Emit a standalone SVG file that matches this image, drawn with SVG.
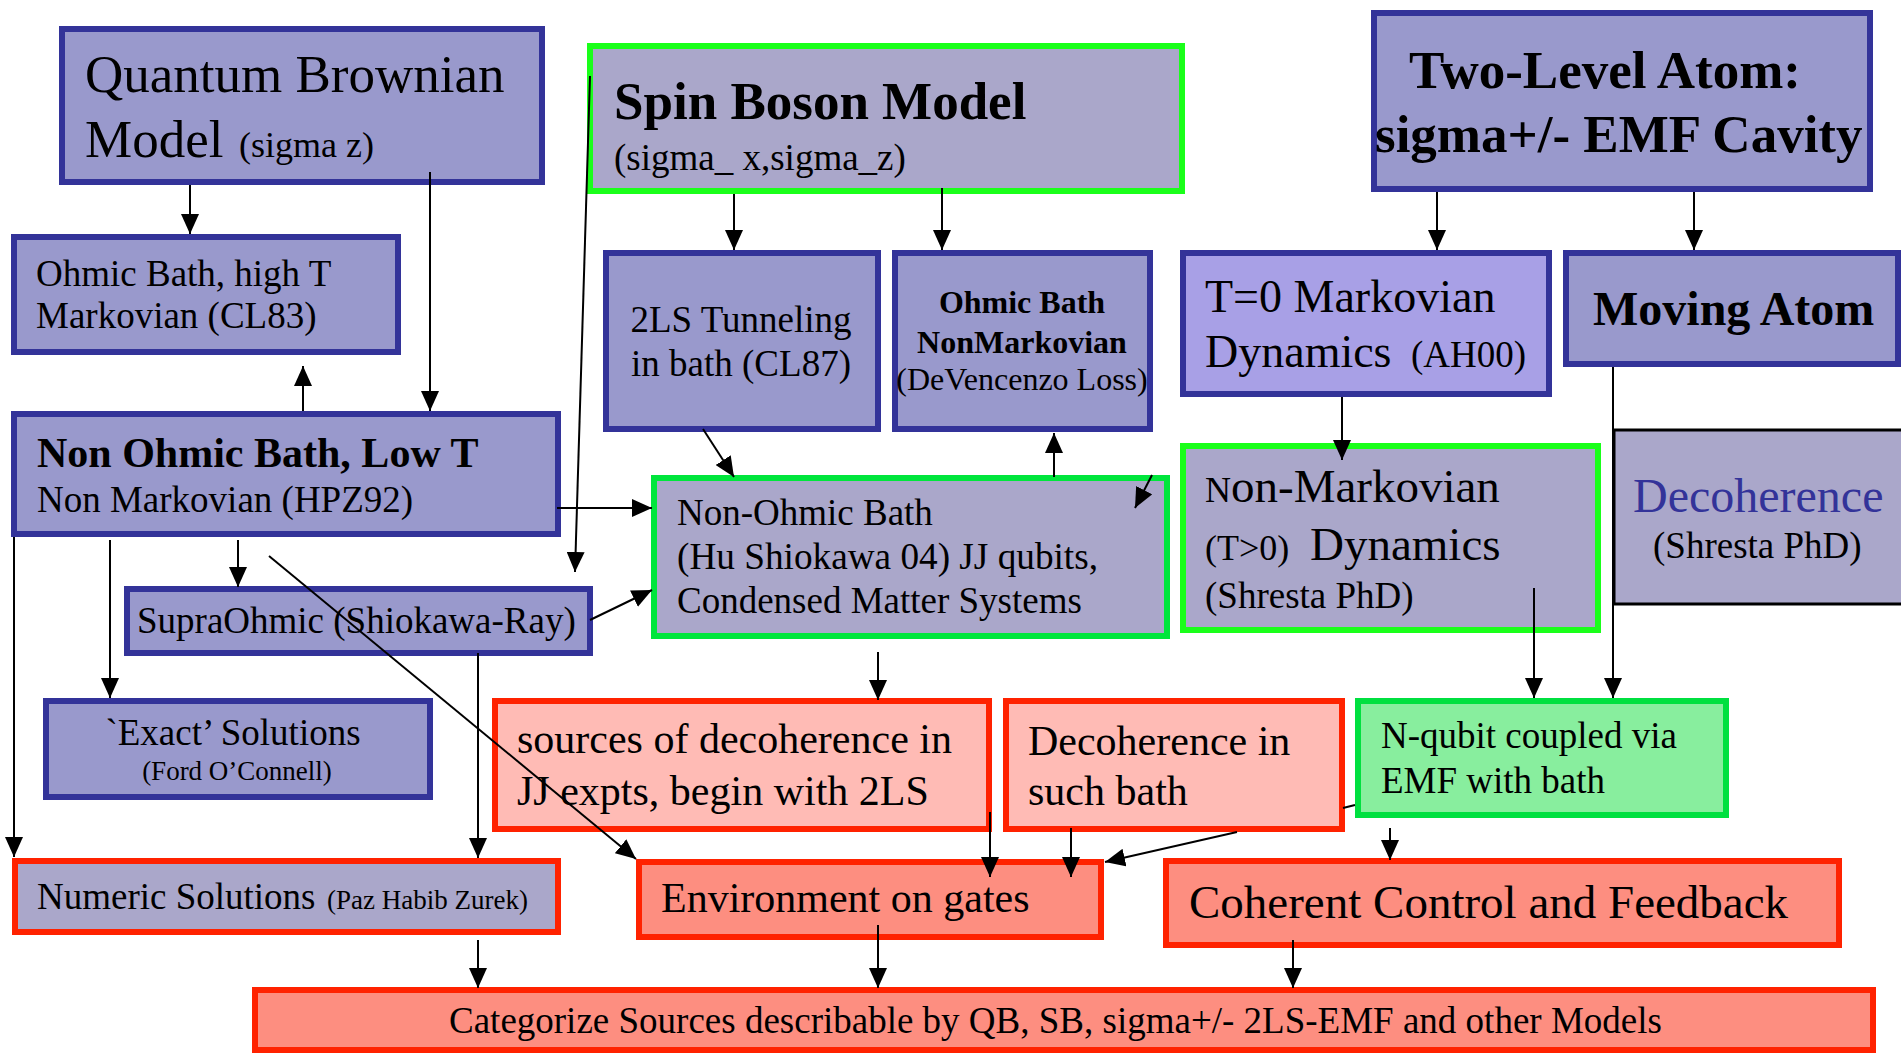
<svg xmlns="http://www.w3.org/2000/svg" width="1901" height="1054" viewBox="0 0 1901 1054">
<style>
text{font-family:"Liberation Serif","Times New Roman",serif;fill:#000}
.b{font-weight:bold}
.nv{fill:#9999cc;stroke:#333399;stroke-width:6}
.gl{fill:#aaa7ca;stroke:#1aff1a;stroke-width:6}
.gd{fill:#aaa7ca;stroke:#00e63c;stroke-width:6}
.rl{fill:#aaa7ca;stroke:#ff2200;stroke-width:6}
.pk{fill:#ffbbb5;stroke:#ff2200;stroke-width:6}
.sa{fill:#fd8e80;stroke:#ff2200;stroke-width:6}
.gr{fill:#88ee9e;stroke:#00e040;stroke-width:6}
.cn path{fill:none;stroke:#000;stroke-width:2;marker-end:url(#ah)}
</style>
<defs>
<marker id="ah" markerUnits="userSpaceOnUse" markerWidth="20" markerHeight="18" refX="20" refY="9" orient="auto">
<path d="M0,0 L20,9 L0,18 z" fill="#000"/>
</marker>
</defs>

<g id="qb"><rect class="nv" x="62" y="29" width="480" height="153"/>
<text x="85" y="92" font-size="53">Quantum Brownian</text>
<text x="85" y="157" font-size="53">Model<tspan x="239" font-size="36">(sigma z)</tspan></text></g>

<g id="ohmic-high"><rect class="nv" x="14" y="237" width="384" height="115"/>
<text x="36" y="286" font-size="37">Ohmic Bath, high T</text>
<text x="36" y="328" font-size="37">Markovian (CL83)</text></g>

<g id="spin-boson"><rect class="gl" x="590" y="46" width="592" height="145"/>
<text class="b" x="614" y="119" font-size="53">Spin Boson Model</text>
<text x="614" y="170" font-size="37">(sigma_ x,sigma_z)</text></g>

<g id="two-level"><rect class="nv" x="1374" y="13" width="496" height="176"/>
<text class="b" x="1409" y="88" font-size="53">Two-Level Atom:</text>
<text class="b" x="1375" y="152" font-size="53">sigma+/- EMF Cavity</text></g>

<g id="tunneling"><rect class="nv" x="606" y="253" width="272" height="176"/>
<text x="741" y="332" font-size="37" text-anchor="middle">2LS Tunneling</text>
<text x="741" y="376" font-size="37" text-anchor="middle">in bath (CL87)</text></g>

<g id="ohmic-nonmark"><rect class="nv" x="895" y="253" width="255" height="176"/>
<text class="b" x="1022" y="313" font-size="32" text-anchor="middle">Ohmic Bath</text>
<text class="b" x="1022" y="353" font-size="32" text-anchor="middle">NonMarkovian</text>
<text x="1022" y="390" font-size="32" text-anchor="middle">(DeVencenzo Loss)</text></g>

<g id="t0"><rect x="1183" y="253" width="366" height="141" fill="#a8a0e6" stroke="#333399" stroke-width="6"/>
<text x="1205" y="312" font-size="46">T=0 Markovian</text>
<text x="1205" y="367" font-size="46">Dynamics<tspan x="1411" font-size="37">(AH00)</tspan></text></g>

<g id="moving"><rect class="nv" x="1566" y="253" width="332" height="111"/>
<text class="b" x="1593" y="325" font-size="48">Moving Atom</text></g>

<g id="decoherence-phd"><rect x="1614" y="430" width="300" height="174" fill="#aaa7ca" stroke="#000" stroke-width="3"/>
<text x="1633" y="512" font-size="48" style="fill:#333399">Decoherence</text>
<text x="1653" y="558" font-size="37">(Shresta PhD)</text></g>

<g id="nonohmic-low"><rect class="nv" x="14" y="414" width="544" height="120"/>
<text class="b" x="37" y="467" font-size="42">Non Ohmic Bath, Low T</text>
<text x="37" y="512" font-size="37">Non Markovian (HPZ92)</text></g>

<g id="nonohmic-bath"><rect class="gd" x="654" y="478" width="513" height="158"/>
<text x="677" y="525" font-size="37">Non-Ohmic Bath</text>
<text x="677" y="569" font-size="37" textLength="421" lengthAdjust="spacingAndGlyphs">(Hu Shiokawa 04) JJ qubits,</text>
<text x="677" y="613" font-size="37">Condensed Matter Systems</text></g>

<g id="nonmarkovian"><rect class="gl" x="1183" y="446" width="415" height="184"/>
<text x="1205" y="502" font-size="47"><tspan font-size="36">N</tspan>on-Markovian</text>
<text x="1205" y="560" font-size="36">(T&gt;0)<tspan x="1310" font-size="47">Dynamics</tspan></text>
<text x="1205" y="608" font-size="37">(Shresta PhD)</text></g>

<g id="supraohmic"><rect class="nv" x="127" y="589" width="463" height="64"/>
<text x="137" y="633" font-size="37">SupraOhmic (Shiokawa-Ray)</text></g>

<g id="exact"><rect class="nv" x="46" y="701" width="384" height="96"/>
<text x="233" y="745" font-size="37" text-anchor="middle">`Exact’ Solutions</text>
<text x="237" y="780" font-size="27" text-anchor="middle">(Ford O’Connell)</text></g>

<g id="sources"><rect class="pk" x="495" y="701" width="494" height="128"/>
<text x="517" y="753" font-size="42">sources of decoherence in</text>
<text x="517" y="805" font-size="42">JJ expts, begin with 2LS</text></g>

<g id="decoherence-bath"><rect class="pk" x="1006" y="701" width="336" height="128"/>
<text x="1028" y="755" font-size="42">Decoherence in</text>
<text x="1028" y="805" font-size="42">such bath</text></g>

<g id="nqubit"><rect class="gr" x="1358" y="701" width="368" height="114"/>
<text x="1381" y="748" font-size="37">N-qubit coupled via</text>
<text x="1381" y="793" font-size="37">EMF with bath</text></g>

<g id="numeric"><rect class="rl" x="15" y="861" width="543" height="71"/>
<text x="37" y="909" font-size="37">Numeric Solutions<tspan x="327" font-size="27">(Paz Habib Zurek)</tspan></text></g>

<g id="environment"><rect class="sa" x="639" y="862" width="462" height="75"/>
<text x="661" y="912" font-size="42">Environment on gates</text></g>

<g id="coherent"><rect class="sa" x="1166" y="861" width="673" height="84"/>
<text x="1189" y="918" font-size="47">Coherent Control and Feedback</text></g>

<g id="categorize"><rect class="sa" x="255" y="990" width="1618" height="60"/>
<text x="449" y="1033" font-size="37">Categorize Sources describable by QB, SB, sigma+/- 2LS-EMF and other Models</text></g>

<g id="connectors" class="cn">
<path d="M190,185 V234"/>
<path d="M430,172 V411"/>
<path d="M590,76 L575,572"/>
<path d="M303,411 V366"/>
<path d="M557,508 H652"/>
<path d="M590,620 L652,590"/>
<path d="M238,540 V587"/>
<path d="M110,540 V698"/>
<path d="M14,537 V857"/>
<path d="M269,556 L636,859"/>
<path d="M478,653 V858"/>
<path d="M478,940 V988"/>
<path d="M878,925 V988"/>
<path d="M1293,940 V988"/>
<path d="M990,812 V877"/>
<path d="M1071,828 V877"/>
<path d="M1355,805 L1343,808 M1237,832 L1105,862"/>
<path d="M1390,828 V860"/>
<path d="M1534,588 V698"/>
<path d="M1613,367 V698"/>
<path d="M1437,192 V250"/>
<path d="M1694,192 V250"/>
<path d="M734,194 V250"/>
<path d="M942,188 V250"/>
<path d="M703,429 L734,477"/>
<path d="M1054,477 V433"/>
<path d="M1152,475 L1135,508"/>
<path d="M878,652 V700"/>
<path d="M1342,397 V460"/>
</g>
</svg>
